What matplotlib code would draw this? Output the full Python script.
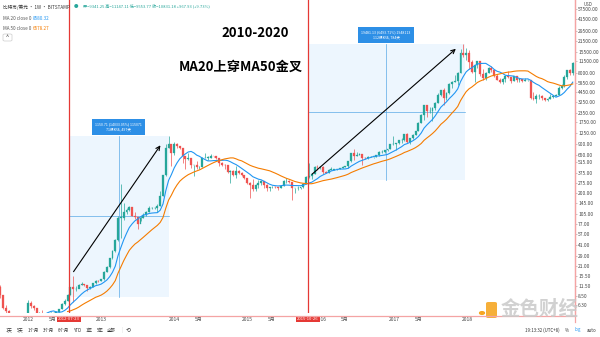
import numpy as np
import pandas as pd
import matplotlib
matplotlib.use("Agg")
import matplotlib.pyplot as plt
import matplotlib.dates as mdates
from matplotlib.patches import Rectangle, FancyBboxPatch

plt.rcParams['font.family'] = ['Noto Sans CJK SC', 'DejaVu Sans']

# BTC/USD (Bitstamp), two-week bars, first bar opens 2011-08-08
bar_start = np.datetime64('2011-08-08')
first_open = 11.0
closes = [
    8.6, 5.9, 5.3, 4.9, 3.4, 3.2, 2.9, 2.6, 3.2, 4.1,
    6.8, 6.2, 5.9, 4.9, 4.9, 4.8, 4.9, 4.9, 5.0, 5.0,
    5.2, 5.6, 6.6, 7.3, 8.8, 11.0, 10.5, 10.5, 11.8, 12.3,
    11.8, 10.8, 11.2, 12.4, 13.5, 13.4, 14.1, 17.8, 20.6, 27.0,
    34, 47, 94, 94, 112, 117, 129, 100, 96, 76,
    94, 103, 112, 126, 126, 126, 134, 185, 345, 795,
    900, 680, 910, 850, 810, 620, 570, 580, 470, 480,
    440, 445, 580, 590, 590, 625, 620, 585, 500, 480,
    475, 380, 390, 350, 390, 370, 350, 320, 270, 255,
    225, 255, 275, 290, 255, 235, 238, 240, 238, 232,
    246, 290, 290, 280, 230, 230, 232, 238, 264, 330,
    335, 360, 450, 440, 450, 385, 375, 410, 410, 415,
    418, 425, 450, 455, 530, 680, 620, 650, 655, 590,
    580, 605, 610, 610, 640, 700, 705, 740, 770, 890,
    900, 925, 1010, 1020, 1210, 960, 1080, 1190, 1350, 1720,
    2200, 2950, 2500, 2500, 2750, 3230, 4100, 4700, 3700, 4350,
    5700, 6150, 6350, 8000, 15000, 14000, 14800, 11200, 8200, 10300,
    11500, 7800, 6800, 8000, 9350, 8700, 7350, 6450, 6100, 6750,
    7400, 7000, 6300, 7200, 6500, 6600, 6300, 6400, 6400, 3750,
    3600, 3950, 4000, 3700, 3450, 3650, 3850, 4000, 4100, 5050,
    5300, 7000, 8700, 8000, 10800,
]
highs = [
    11.9, 8.5, 6.3, 5.4, 4.3, 3.8, 3.4, 3.0, 3.3, 4.5,
    7.4, 7.2, 6.4, 5.9, 5.1, 5.4, 5.0, 5.0, 5.2, 5.1,
    5.3, 5.7, 6.8, 7.6, 9.0, 11.2, 15.4, 11.3, 12.1, 12.8,
    12.2, 11.9, 11.3, 12.6, 13.7, 13.8, 14.3, 18.2, 21.0, 27.4,
    35, 48, 100, 266, 145, 125, 133, 124, 110, 97,
    100, 108, 115, 136, 132, 130, 142, 214, 350, 900,
    1163, 900, 950, 920, 860, 700, 625, 680, 590, 480,
    540, 455, 600, 680, 615, 655, 630, 600, 590, 515,
    490, 440, 400, 405, 460, 405, 385, 350, 320, 280,
    310, 265, 300, 300, 270, 262, 243, 245, 245, 238,
    252, 300, 315, 298, 268, 235, 245, 240, 268, 335,
    500, 375, 465, 470, 460, 460, 395, 415, 445, 420,
    424, 430, 465, 465, 535, 690, 780, 710, 680, 660,
    600, 615, 630, 612, 645, 720, 745, 755, 780, 900,
    1150, 935, 1020, 1070, 1230, 1280, 1100, 1215, 1355, 1760,
    2250, 2980, 3000, 2800, 2800, 3280, 4330, 4750, 4970, 4400,
    5850, 6200, 7600, 8300, 16600, 19666, 17200, 16300, 12000, 10300,
    11700, 11700, 9100, 8200, 9750, 9950, 8900, 7750, 6900, 6800,
    7500, 8500, 7150, 7400, 7400, 6800, 6700, 6800, 6550, 6500,
    4400, 4200, 4250, 4100, 3650, 3700, 4200, 4050, 4150, 5350,
    5650, 7500, 8900, 9050, 11200,
]
lows = [
    7.9, 5.7, 4.6, 4.4, 3.2, 2.3, 2.5, 2.0, 2.7, 3.1,
    4.6, 5.8, 5.5, 4.3, 4.5, 4.6, 4.6, 4.8, 4.9, 4.9,
    5.0, 5.2, 5.6, 6.4, 7.3, 8.6, 7.1, 9.8, 10.8, 11.8,
    11.6, 9.8, 10.5, 11.2, 12.3, 13.1, 13.2, 14.0, 17.8, 20.2,
    26, 33, 46, 50, 86, 105, 115, 98, 90, 66,
    85, 94, 100, 112, 122, 121, 110, 133, 185, 340,
    800, 456, 650, 800, 770, 500, 420, 560, 430, 340,
    420, 420, 440, 580, 560, 585, 600, 575, 460, 465,
    420, 370, 275, 335, 320, 355, 340, 305, 260, 170,
    210, 215, 235, 255, 235, 215, 216, 230, 232, 220,
    230, 250, 270, 275, 162, 200, 222, 225, 235, 262,
    320, 310, 355, 410, 420, 360, 365, 368, 400, 400,
    410, 415, 425, 440, 435, 525, 550, 615, 640, 480,
    565, 570, 600, 590, 608, 630, 685, 690, 730, 770,
    880, 750, 900, 940, 1000, 940, 890, 1050, 1180, 1330,
    1700, 1900, 2080, 2350, 1850, 2600, 3230, 3950, 2980, 3500,
    4200, 5100, 6100, 5500, 8000, 13000, 12100, 9000, 8000, 6000,
    9300, 7300, 6500, 6400, 7900, 8300, 7100, 6400, 5800, 5750,
    6100, 6900, 5850, 6250, 6100, 6100, 6100, 6300, 6250, 3600,
    3500, 3150, 3600, 3450, 3350, 3400, 3650, 3700, 3950, 4100,
    4950, 5250, 6650, 7450, 7600,
]

# measured ranges: (from date, to date, low price, high price)
ranges = [
    ('2012-07-23', '2013-12-02', 8.2, 1158.9),
    ('2015-10-26', '2017-12-18', 300.0, 19781.1),
]
range_text = [
    '1150.71 (14033.05%) 115071\n71根K线, 497天',
    '19481.13 (6493.71%) 1948113\n112根K线, 784天',
]
cross_dates = ['2012-07-23', '2015-10-26']
arrows = [
    (('2012-08-07', 16.6), ('2013-10-30', 930)),
    (('2015-11-07', 337), ('2017-11-14', 17800)),
]

price_ticks = [6.30, 8.50, 11.50, 15.50, 21.00, 29.00, 41.00, 57.00, 77.00,
               105.00, 145.00, 200.00, 275.00, 375.00, 515.00, 650.00, 900.00,
               1250.00, 1750.00, 2350.00, 3250.00, 4450.00, 5850.00, 8000.00,
               11500.00, 15500.00, 21500.00, 29500.00, 41500.00, 57500.00]
year_ticks = ['2012', '2013', '2014', '2015', '2016', '2017', '2018']
month_ticks = ['2012-05-01', '2014-05-01', '2015-05-01', '2016-05-01', '2017-05-01']

UP = '#26a69a'
DOWN = '#ef5350'
MA20_C = '#2196f3'
MA50_C = '#f57c00'
LINE_RED = '#e53935'

n = len(closes)
opens = [first_open] + closes[:-1]
t0 = bar_start + np.arange(n) * np.timedelta64(14, 'D') + np.timedelta64(7, 'D')
x = mdates.date2num(t0.astype('datetime64[D]').astype(object))

s = pd.Series(closes)
ma20 = s.rolling(10).mean()   # 20 weeks
ma50 = s.rolling(25).mean()   # 50 weeks


def dnum(d):
    return mdates.datestr2num(d)


fig = plt.figure(figsize=(6, 3.37), dpi=100)
fig.patch.set_facecolor('white')
ax = fig.add_axes([0, 1 - 313 / 337, 575 / 600, 313 / 337])
ax.set_yscale('log')
ax.set_xlim(dnum('2011-08-14'), dnum('2019-06-21'))
ax.set_ylim(5.0, 75500)

# shaded measuring boxes
for (d0, d1, lo, hi), txt in zip(ranges, range_text):
    a, b = dnum(d0), dnum(d1)
    ax.add_patch(Rectangle((a, lo), b - a, hi - lo, facecolor='#2196f3',
                           alpha=0.08, edgecolor='none', zorder=0))
    xm = (a + b) / 2
    ym = np.sqrt(lo * hi)
    ax.plot([xm, xm], [lo, hi], color='#5aa9e6', lw=0.5, zorder=1)
    ax.plot([a, b], [ym, ym], color='#5aa9e6', lw=0.5, zorder=1)
    ax.annotate(txt, xy=(xm, hi), xytext=(0, 3), textcoords='offset points',
                ha='center', va='bottom', fontsize=2.6, color='white',
                linespacing=1.5,
                bbox=dict(boxstyle='square,pad=0.9', fc='#2d8fe6', ec='none'),
                zorder=6)

# candles
w = 9.5
for xi, o, h, l, c in zip(x, opens, highs, lows, closes):
    col = UP if c >= o else DOWN
    ax.vlines(xi, l, h, color=col, lw=0.5, zorder=2)
    ax.bar(xi, abs(c - o) if c != o else o * 0.01, w, bottom=min(o, c),
           color=col, edgecolor=col, lw=0.2, zorder=3)

ax.plot(x, ma20, color=MA20_C, lw=0.8, zorder=4)
ax.plot(x, ma50, color=MA50_C, lw=0.8, zorder=4)

# golden cross markers
for d in cross_dates:
    ax.axvline(dnum(d), color=LINE_RED, lw=0.9, zorder=5)
    ax.annotate(d, xy=(dnum(d), 0), xycoords=('data', 'axes fraction'),
                xytext=(0, -4.3), textcoords='offset points', ha='center',
                va='center', fontsize=3.0, color='white',
                bbox=dict(boxstyle='square,pad=0.3', fc=LINE_RED, ec='none'),
                annotation_clip=False, zorder=7)

for (d0, p0), (d1, p1) in arrows:
    ax.annotate('', xy=(dnum(d1), p1), xytext=(dnum(d0), p0),
                arrowprops=dict(arrowstyle='->', color='black', lw=0.8,
                                mutation_scale=7), zorder=6)

# axes styling
for side in ['left', 'top', 'bottom']:
    ax.spines[side].set_visible(False)
ax.spines['right'].set_color('#f4a4a4')
ax.spines['right'].set_linewidth(0.9)
ax.yaxis.tick_right()
ax.set_yticks(price_ticks)
ax.set_yticklabels(['%.2f' % v for v in price_ticks])
ax.yaxis.set_minor_locator(matplotlib.ticker.NullLocator())
ax.tick_params(axis='y', labelsize=3.5, colors='#444444', length=1.5,
               width=0.4, pad=0.8)
ax.tick_params(axis='y', color='#999999')
xt = [dnum(y + '-01-01') for y in year_ticks] + [dnum(m) for m in month_ticks]
xl = year_ticks + ['5月'] * len(month_ticks)
ax.set_xticks(xt)
ax.set_xticklabels(xl)
ax.tick_params(axis='x', labelsize=3.6, colors='#444444', length=0, pad=3)

# bottom border of the time axis
fig.add_artist(plt.Line2D([0, 575 / 600], [1 - 316 / 337] * 2,
                          color='#f4a4a4', lw=0.9))
fig.add_artist(plt.Line2D([575 / 600] * 2, [1 - 322 / 337, 1],
                          color='#f4a4a4', lw=0.9))

# headline
fig.text(255 / 600, 1 - 33 / 337, '2010-2020', fontsize=9.5,
         fontweight='bold', ha='center', va='center')
fig.text(241 / 600, 1 - 67 / 337, 'MA20上穿MA50金叉', fontsize=9.5,
         fontweight='bold', ha='center', va='center')

# legend / header
fig.text(3 / 600, 1 - 7 / 337, '比特币/美元 · 1W · BITSTAMP', fontsize=3.3,
         color='#333333', va='center')
fig.text(3 / 600, 1 - 18 / 337, 'MA 20 close 0', fontsize=3.3,
         color='#555555', va='center')
fig.text(33 / 600, 1 - 18 / 337, '8580.32', fontsize=3.3, color=MA20_C,
         va='center')
fig.text(3 / 600, 1 - 28 / 337, 'MA 50 close 0', fontsize=3.3,
         color='#555555', va='center')
fig.text(33 / 600, 1 - 28 / 337, '6578.27', fontsize=3.3, color=MA50_C,
         va='center')
fig.add_artist(FancyBboxPatch((3 / 600, 1 - 41 / 337), 9 / 600, 7 / 337,
                              boxstyle='round,pad=0,rounding_size=0.003',
                              fc='white', ec='#cccccc', lw=0.5))
fig.text(7.5 / 600, 1 - 37.5 / 337, '^', fontsize=4, ha='center',
         va='center', color='#333333')
fig.text(74 / 600, 1 - 6 / 337, '●', fontsize=3.2, color=UP, va='center')
fig.text(83 / 600, 1 - 6 / 337,
         '开=9341.25 高=11147.11 低=9553.77 收=10831.18 +967.93 (+9.73%)',
         fontsize=3.0, color=UP, va='center')
fig.text(588 / 600, 1 - 4 / 337, 'USD', fontsize=3.2, color='#444444',
         ha='center', va='center')

# toolbar
tools = ['1天', '5天', '1个月', '3个月', '6个月', 'YTD', '1年', '5年', '全部']
tool_x = [6, 17, 28, 43, 58, 74, 86, 97, 107]
for tx, tl in zip(tool_x, tools):
    fig.text(tx / 600, 1 - 330 / 337, tl, fontsize=3.2, color='#333333',
             va='center')
fig.text(121 / 600, 1 - 330 / 337, '|', fontsize=3.4, color='#cccccc',
         va='center')
fig.text(126 / 600, 1 - 330 / 337, '⟲', fontsize=4.2, color='#333333',
         va='center')
fig.text(525 / 600, 1 - 330 / 337, '19:13:32 (UTC+8)', fontsize=3.2,
         color='#333333', va='center')
fig.text(565 / 600, 1 - 330 / 337, '%', fontsize=3.2, color='#333333',
         va='center')
fig.text(575 / 600, 1 - 330 / 337, 'log', fontsize=3.2, color='#2196f3',
         va='center')
fig.text(587 / 600, 1 - 330 / 337, 'auto', fontsize=3.2, color='#333333',
         va='center')

# watermark
fig.add_artist(FancyBboxPatch((486 / 600, 1 - 318 / 337), 11 / 600, 16 / 337,
                              boxstyle='round,pad=0,rounding_size=0.004',
                              fc='#f6a623', ec='none', alpha=0.9))
fig.add_artist(plt.Circle((482 / 600, 1 - 313 / 337), 0.004, color='#f6a623'))
fig.text(540 / 600, 1 - 309 / 337, '金色财经', fontsize=14, color='#c9c9c9',
         alpha=0.85, ha='center', va='center', fontweight='bold')

fig.savefig('out.png', dpi=100, facecolor='white')
